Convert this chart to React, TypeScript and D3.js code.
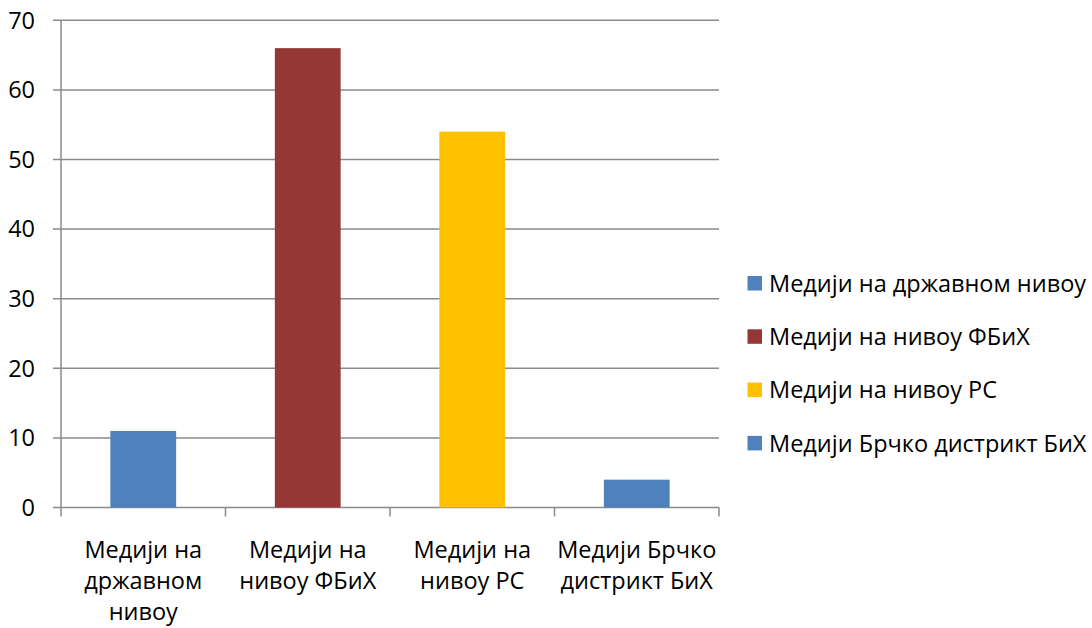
import React, { useEffect, useRef } from 'react';
import * as d3 from 'd3';

const categories = [
  ['Медији на', 'државном', 'нивоу'],
  ['Медији на', 'нивоу ФБиХ'],
  ['Медији на', 'нивоу РС'],
  ['Медији Брчко', 'дистрикт БиХ'],
];
const values = [11, 66, 54, 4];
const colors = ['#4F81BD', '#953735', '#FFC000', '#4F81BD'];
const legendLabels = [
  'Медији на државном нивоу',
  'Медији на нивоу ФБиХ',
  'Медији на нивоу РС',
  'Медији Брчко дистрикт БиХ',
];
const yTicks = [0, 10, 20, 30, 40, 50, 60, 70];

const FONT = '"Open Sans", sans-serif';
const FS = 23.5;

const App: React.FC = () => {
  const svgRef = useRef<SVGSVGElement>(null);

  useEffect(() => {
    if (!svgRef.current) return;
    const svg = d3.select(svgRef.current);
    svg.selectAll('*').remove();

    const left = 61;
    const right = 719;
    const top = 20.3;
    const bottom = 507.5;

    const xScale = d3.scaleBand<number>()
      .domain(d3.range(values.length))
      .range([left, right])
      .padding(0);

    const yScale = d3.scaleLinear().domain([0, 70]).range([bottom, top]);

    // gridlines
    svg.append('g')
      .selectAll('line')
      .data(yTicks)
      .enter()
      .append('line')
      .attr('x1', left - 8)
      .attr('x2', right)
      .attr('y1', d => yScale(d))
      .attr('y2', d => yScale(d))
      .attr('stroke', '#8a8a8a')
      .attr('stroke-width', 1.5);

    // y labels
    svg.append('g')
      .selectAll('text')
      .data(yTicks)
      .enter()
      .append('text')
      .attr('x', 35)
      .attr('y', d => yScale(d))
      .attr('dy', '0.35em')
      .attr('text-anchor', 'end')
      .attr('font-family', FONT)
      .attr('font-size', FS)
      .attr('fill', '#000')
      .text(d => d);

    // bars
    const barW = xScale.bandwidth() * 0.4;
    svg.append('g')
      .selectAll('rect')
      .data(values)
      .enter()
      .append('rect')
      .attr('x', (d, i) => (xScale(i) as number) + (xScale.bandwidth() - barW) / 2)
      .attr('y', d => yScale(d))
      .attr('width', barW)
      .attr('height', d => bottom - yScale(d))
      .attr('fill', (d, i) => colors[i]);

    // axes lines
    svg.append('line')
      .attr('x1', left).attr('x2', left)
      .attr('y1', top).attr('y2', bottom)
      .attr('stroke', '#8a8a8a').attr('stroke-width', 1.5);

    const boundaries = d3.range(values.length + 1).map(i =>
      i < values.length ? (xScale(i) as number) : right);
    svg.append('g')
      .selectAll('line')
      .data(boundaries)
      .enter()
      .append('line')
      .attr('x1', d => d).attr('x2', d => d)
      .attr('y1', bottom).attr('y2', bottom + 9)
      .attr('stroke', '#8a8a8a').attr('stroke-width', 1.5);

    // category labels
    categories.forEach((lines, i) => {
      const cx = (xScale(i) as number) + xScale.bandwidth() / 2;
      const t = svg.append('text')
        .attr('text-anchor', 'middle')
        .attr('font-family', FONT)
        .attr('font-size', FS)
        .attr('fill', '#000');
      lines.forEach((ln, j) => {
        t.append('tspan')
          .attr('x', cx)
          .attr('y', 558 + j * 31)
          .text(ln);
      });
    });

    // legend
    const lg = svg.append('g');
    legendLabels.forEach((lab, i) => {
      const cy = 283.5 + i * 53.3;
      lg.append('rect')
        .attr('x', 747.5)
        .attr('y', cy - 7.5)
        .attr('width', 14.5)
        .attr('height', 14.5)
        .attr('fill', colors[i]);
      lg.append('text')
        .attr('x', 769)
        .attr('y', cy)
        .attr('dy', '0.35em')
        .attr('font-family', FONT)
        .attr('font-size', FS)
        .attr('fill', '#000')
        .text(lab);
    });
  }, []);

  return (
    <svg
      ref={svgRef}
      width={1092}
      height={628}
      style={{ position: 'absolute', left: 0, top: 0, background: '#fff' }}
    />
  );
};

export default App;
